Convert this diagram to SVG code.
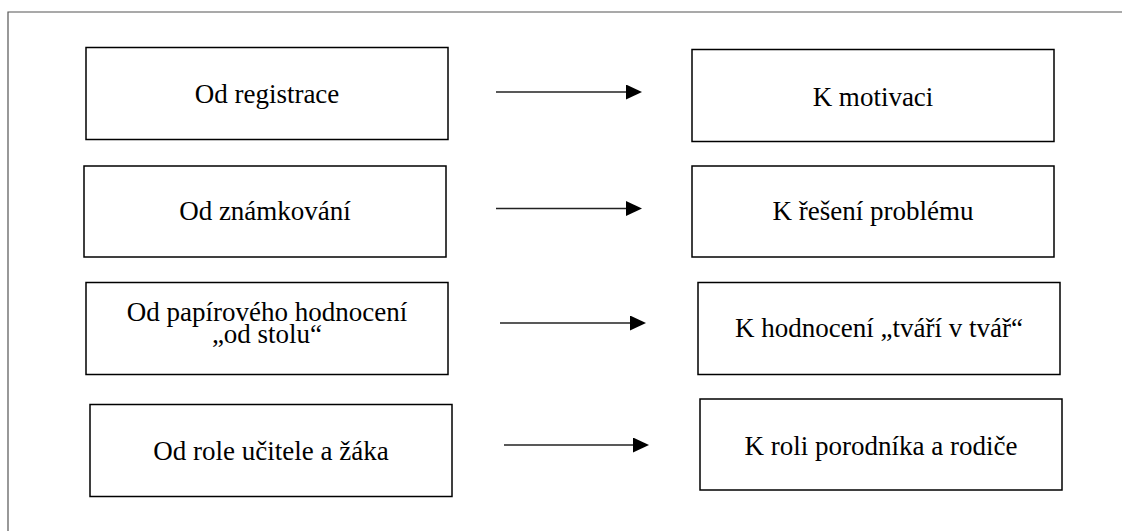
<svg xmlns="http://www.w3.org/2000/svg" width="1122" height="531" viewBox="0 0 1122 531">
<style>
.box{fill:#fff;stroke:#000;stroke-width:1.5}
.t{font-family:'Liberation Serif','Times New Roman',serif;font-size:27px;fill:#000;text-anchor:middle}
.c{stroke:#222;stroke-width:1.4;fill:none}
</style>
<defs>
<marker id="ah" viewBox="0 0 16 15" markerWidth="16" markerHeight="15" refX="0" refY="7.5" orient="auto" markerUnits="userSpaceOnUse">
<path d="M0,0 L16,7.5 L0,15 z" fill="#000"/>
</marker>
</defs>
<rect width="1122" height="531" fill="#fff"/>
<path d="M8,531 V12 H1122" fill="none" stroke="#555" stroke-width="1.2"/>
<g id="n1"><rect class="box" x="86" y="47.5" width="362" height="92"/><text class="t" x="267" y="103" font-family="Liberation Serif, serif">Od registrace</text></g>
<g id="n2"><rect class="box" x="84" y="166" width="362" height="91"/><text class="t" x="265" y="219.5" font-family="Liberation Serif, serif">Od známkování</text></g>
<g id="n3"><rect class="box" x="86" y="282.5" width="362" height="92"/><text class="t" x="267" y="321" font-family="Liberation Serif, serif">Od papírového hodnocení</text><text class="t" x="267" y="342.5" font-family="Liberation Serif, serif">„od stolu“</text></g>
<g id="n4"><rect class="box" x="90" y="404.5" width="362" height="92"/><text class="t" x="271" y="460" font-family="Liberation Serif, serif">Od role učitele a žáka</text></g>
<g id="m1"><rect class="box" x="692" y="49.5" width="362" height="92"/><text class="t" x="873" y="105.5" font-family="Liberation Serif, serif">K motivaci</text></g>
<g id="m2"><rect class="box" x="692" y="166" width="362" height="91"/><text class="t" x="873" y="220" font-family="Liberation Serif, serif">K řešení problému</text></g>
<g id="m3"><rect class="box" x="698" y="282.5" width="362" height="92"/><text class="t" x="879" y="337" font-family="Liberation Serif, serif">K hodnocení „tváří v tvář“</text></g>
<g id="m4"><rect class="box" x="700" y="399" width="362" height="91"/><text class="t" x="881" y="455" font-family="Liberation Serif, serif">K roli porodníka a rodiče</text></g>
<g id="connectors">
<line class="c" x1="496" y1="92" x2="626" y2="92" marker-end="url(#ah)"/>
<line class="c" x1="496" y1="208.5" x2="626" y2="208.5" marker-end="url(#ah)"/>
<line class="c" x1="500" y1="323" x2="630" y2="323" marker-end="url(#ah)"/>
<line class="c" x1="504" y1="445" x2="633" y2="445" marker-end="url(#ah)"/>
</g>
</svg>
